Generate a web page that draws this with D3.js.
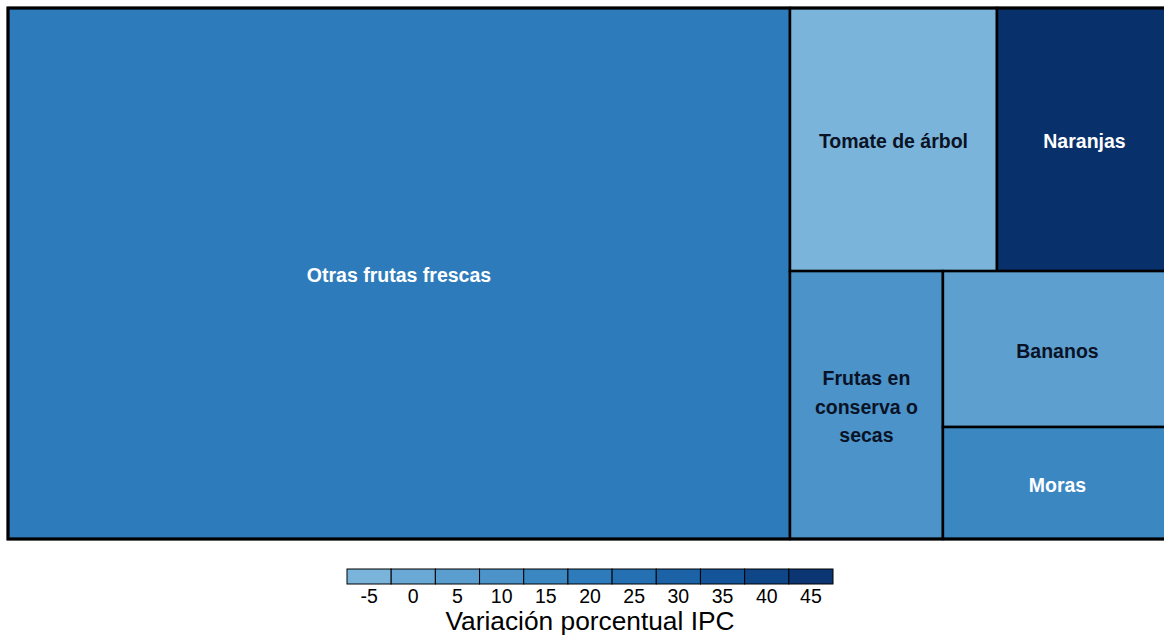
<!DOCTYPE html>
<html>
<head>
<meta charset="utf-8">
<script src="https://cdn.jsdelivr.net/npm/d3@7"></script>
<style>
  html, body { margin: 0; padding: 0; background: #ffffff; }
  svg { display: block; }
</style>
</head>
<body>
<svg id="chart" width="1164" height="638"></svg>
<script>
// ---- data ----
const categories = ["Otras frutas frescas", "Tomate de árbol", "Naranjas", "Frutas en conserva o secas", "Bananos", "Moras"];
const weights    = [67.18, 8.81, 7.45, 6.63, 5.78, 4.15];
const variation  = [20, -5, 48, 10, 4, 15];
const legendTicks = [-5, 0, 5, 10, 15, 20, 25, 30, 35, 40, 45];
const legendTitle = "Variación porcentual IPC";

// ---- styles ----
const palette = ["#7bb4da", "#6aa9d5", "#5a9ecf", "#4b93c9", "#3b87c2", "#2e7bbb",
                 "#2470b2", "#1b62a6", "#14559a", "#0e4688", "#0b3673"];
const darkText = "#0a1226";
const fontFamily = "'Liberation Sans', Arial, sans-serif";

const svg = d3.select("#chart");
const W = 1164, H = 531, X0 = 8, Y0 = 8;

const color = d3.scaleLinear()
  .domain(legendTicks.concat([48]))
  .range(palette.concat(["#08306b"]))
  .clamp(true);

const data = categories.map((c, i) => ({ name: c, weight: weights[i], value: variation[i] }));
const root = d3.hierarchy({ children: data })
  .sum(d => d.weight || 0)
  .sort((a, b) => b.value - a.value);

d3.treemap()
  .tile(d3.treemapSquarify.ratio(1))
  .size([W, H])(root);

const g = svg.append("g").attr("transform", `translate(${X0},${Y0})`);

const cells = g.selectAll("g.cell").data(root.leaves()).join("g").attr("class", "cell");

cells.append("rect")
  .attr("x", d => d.x0).attr("y", d => d.y0)
  .attr("width", d => d.x1 - d.x0).attr("height", d => d.y1 - d.y0)
  .attr("fill", d => color(d.data.value))
  .attr("stroke", "#000").attr("stroke-width", 2.5);

function lum(c) {
  const r = d3.rgb(c);
  return 0.299 * r.r + 0.587 * r.g + 0.114 * r.b;
}

const fs = 19.5;
cells.each(function(d) {
  const cell = d3.select(this);
  const maxW = (d.x1 - d.x0) - 20;
  const cx = (d.x0 + d.x1) / 2, cy = (d.y0 + d.y1) / 2;
  const fill = lum(color(d.data.value)) > 120 ? darkText : "#ffffff";
  const text = cell.append("text")
    .attr("text-anchor", "middle")
    .attr("font-family", fontFamily)
    .attr("font-weight", "bold")
    .attr("font-size", fs)
    .attr("fill", fill);
  const words = d.data.name.split(" ");
  const lines = [];
  let cur = "";
  const probe = text.append("tspan");
  words.forEach(w => {
    const t = cur ? cur + " " + w : w;
    probe.text(t);
    if (probe.node().getComputedTextLength() > maxW && cur) {
      lines.push(cur); cur = w;
    } else cur = t;
  });
  lines.push(cur);
  probe.remove();
  const lh = 28.5;
  lines.forEach((l, i) => {
    text.append("tspan")
      .attr("x", cx)
      .attr("y", cy + 8.5 + (i - (lines.length - 1) / 2) * lh)
      .text(l);
  });
});

// outer border
g.append("rect").attr("x", 0).attr("y", 0).attr("width", W).attr("height", H)
  .attr("fill", "none").attr("stroke", "#000").attr("stroke-width", 3);

// ---- legend ----
const lx = d3.scaleBand().domain(legendTicks).range([347, 833]).padding(0);
const leg = svg.append("g");
leg.selectAll("rect").data(legendTicks).join("rect")
  .attr("x", d => lx(d)).attr("y", 569)
  .attr("width", lx.bandwidth()).attr("height", 15)
  .attr("fill", (d, i) => palette[i])
  .attr("stroke", "#000").attr("stroke-width", 1);

const axis = d3.axisBottom(lx).tickSize(0).tickPadding(0);
const ax = svg.append("g").attr("transform", "translate(0,588)").call(axis);
ax.select(".domain").remove();
ax.selectAll("text")
  .attr("font-family", fontFamily)
  .attr("font-size", 19.5)
  .attr("fill", "#000")
  .attr("dy", "0.78em");

svg.append("text")
  .attr("x", 590).attr("y", 630)
  .attr("text-anchor", "middle")
  .attr("font-family", fontFamily)
  .attr("font-size", 26.3)
  .attr("fill", "#000")
  .text(legendTitle);
</script>
</body>
</html>
